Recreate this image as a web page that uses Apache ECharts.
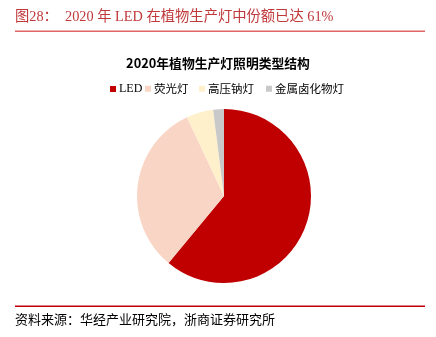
<!DOCTYPE html>
<html><head><meta charset="utf-8">
<script src="https://cdn.jsdelivr.net/npm/echarts@6/dist/echarts.min.js"></script>
<style>html,body{margin:0;padding:0;background:#fff}#c{width:436px;height:337px}</style>
</head><body><div id="c"></div>
<script>
const categories = ['LED', '荧光灯', '高压钠灯', '金属卤化物灯'];
const shares = [61, 32, 5, 2];
const colors = ['#c00000', '#f8d5c5', '#fff0cc', '#c9c9c9'];
const legendLeft = [110, 145, 199, 266];

const chart = echarts.init(document.getElementById('c'));
chart.setOption({
  animation: false,
  title: {
    text: '2020年植物生产灯照明类型结构',
    left: 'center', top: 52,
    textStyle: {fontFamily: 'Noto Sans CJK SC', fontSize: 12.8, fontWeight: 'bold', color: '#000'}
  },
  legend: categories.map((n, i) => ({
    data: [n],
    top: 83, left: legendLeft[i], padding: 0,
    icon: 'rect', itemWidth: 6, itemHeight: 6,
    textStyle: {fontFamily: i === 0 ? '"Liberation Serif"' : '"Noto Sans CJK SC"', fontSize: i === 0 ? 12 : 11.5, color: '#000', padding: [0,0,0,-2]}
  })),
  series: [{
    type: 'pie',
    center: [224, 196],
    radius: 87,
    startAngle: 90,
    clockwise: true,
    label: {show: false},
    labelLine: {show: false},
    itemStyle: {borderWidth: 0},
    data: categories.map((n, i) => ({name: n, value: shares[i], itemStyle: {color: colors[i]}}))
  }],
  graphic: [
    {type: 'text', left: 15, top: 10, style: {text: '图28：  2020 年 LED 在植物生产灯中份额已达 61%', fill: '#c0383a', font: '14.3px "Liberation Serif", "Noto Sans CJK SC"'}},
    {type: 'rect', shape: {x: 15, y: 30.5, width: 410, height: 1.5}, style: {fill: '#e06666'}},
    {type: 'rect', shape: {x: 15, y: 305.5, width: 410, height: 1.5}, style: {fill: '#c00000'}},
    {type: 'text', left: 15, top: 313, style: {text: '资料来源：华经产业研究院，浙商证券研究所', fill: '#000', font: '13px "Noto Sans CJK SC"'}}
  ]
});
</script></body></html>
